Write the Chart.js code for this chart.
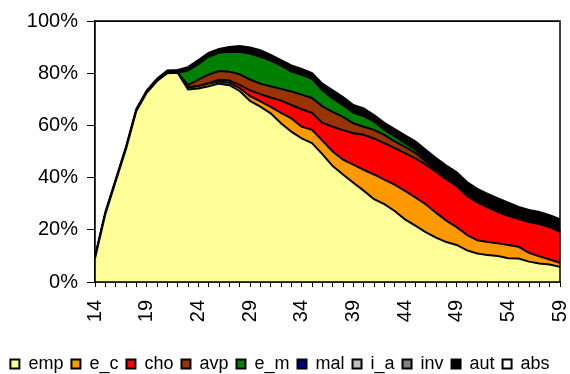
<!DOCTYPE html>
<html>
<head>
<meta charset="utf-8">
<script src="https://cdn.jsdelivr.net/npm/chart.js@4/dist/chart.umd.min.js"></script>
<style>
  html, body { margin: 0; padding: 0; background: #fff; }
  #wrap { width: 570px; height: 374px; position: relative; }
</style>
</head>
<body>
<div id="wrap"><canvas id="chart"></canvas></div>
<script>
const ages = ['14','15','16','17','18','19','20','21','22','23','24','25','26','27','28','29','30','31','32','33','34','35','36','37','38','39','40','41','42','43','44','45','46','47','48','49','50','51','52','53','54','55','56','57','58','59'];
const tickAges = ['14','19','24','29','34','39','44','49','54','59'];
const yTicks = [0, 20, 40, 60, 80, 100];

const emp = [9, 26, 38.5, 51, 65.5, 72.5, 77, 80, 80.2,
  73.8, 74.1, 75, 76, 75.4, 73.2, 69.4, 67.2, 64.6, 60.8,
  57.6, 55, 53.2, 49, 44.4, 41.2, 38, 35, 31.7, 29.8,
  27.2, 24, 21.6, 19.1, 17, 15.3, 14.2, 12.1, 10.9, 10.3,
  10, 9.1, 9, 7.8, 7.1, 6.7, 5.8];
const e_c = [0, 0, 0, 0, 0, 0, 0, 0, 0,
  0.7, 0.9, 1.0, 0.8, 0.9, 1.1, 1.8, 2.0, 2.5, 4.0,
  5.1, 4.5, 5.1, 5.2, 5.6, 5.7, 7.0, 8.0, 9.5, 9.4,
  10.1, 10.9, 10.8, 10.7, 9.5, 8.2, 6.8, 5.9, 5.1, 5.0,
  4.8, 5.1, 4.5, 3.4, 2.7, 1.9, 1.6];
const cho = [0, 0, 0, 0, 0, 0, 0, 0, 0,
  0, 0.1, 0.3, 0.7, 0.9, 1.2, 2.2, 2.8, 3.6, 4.7,
  5.1, 6.7, 6.5, 6.8, 9.5, 11.3, 12.0, 13.4, 13.8, 14.0,
  14.0, 14.5, 15.0, 15.2, 15.8, 15.8, 15.8, 15.0, 14.5, 13.3,
  12.0, 11.2, 10.6, 11.8, 12.4, 12.4, 11.8];
const avp = [0, 0, 0, 0, 0, 0, 0, 0, 0,
  1.0, 2.4, 3.2, 3.3, 3.4, 4.1, 4.2, 4.0, 4.3, 4.5,
  5.2, 5.6, 5.7, 6.3, 5.7, 5.1, 3.8, 3.1, 3.3, 3.2,
  2.6, 2.4, 2.1, 1.3, 0.7, 0.3, 0, 0, 0, 0,
  0, 0, 0, 0, 0, 0, 0];
const e_m = [0, 0, 0, 0, 0, 0, 0, 0, 0,
  5.5, 6.0, 6.8, 7.0, 7.6, 8.5, 9.9, 10.3, 9.8, 8.9,
  7.6, 7.6, 7.3, 6.2, 5.1, 4.5, 4.0, 4.1, 3.1, 1.9,
  1.9, 1.4, 1.2, 0.9, 0.7, 0.8, 0.7, 0.3, 0, 0,
  0, 0, 0, 0, 0, 0, 0];
const mal = [0, 0, 0, 0, 0, 0, 0, 0, 0,
  0, 0, 0, 0.3, 0.3, 0.3, 0.3, 0.3, 0.3, 0.2,
  0.2, 0.2, 0.2, 0.2, 0.1, 0.1, 0.1, 0.1, 0.1, 0.1,
  0.1, 0.1, 0.1, 0.1, 0.1, 0.1, 0.1, 0.1, 0.1, 0.1,
  0.1, 0.1, 0.1, 0.3, 0.3, 0.3, 0.3];
const i_a = [0, 0, 0, 0, 0, 0, 0, 0, 0,
  0, 0, 0, 0, 0, 0, 0, 0, 0, 0,
  0, 0, 0, 0, 0, 0, 0, 0, 0, 0,
  0, 0, 0, 0, 0, 0, 0, 0, 0, 0,
  0, 0, 0, 0, 0.2, 0.2, 0.2];
const inv = [0, 0, 0, 0, 0, 0, 0, 0, 0,
  0, 0, 0, 0, 0, 0, 0, 0, 0, 0,
  0, 0, 0, 0, 0, 0, 0, 0.1, 0.1, 0.1,
  0.1, 0.1, 0.1, 0.1, 0.1, 0.1, 0.1, 0.1, 0.1, 0.1,
  0.1, 0.1, 0.1, 0.1, 0.1, 0.1, 0.1];
const aut = [0.8, 0.8, 0.8, 0.8, 0.8, 0.8, 0.9, 1.0, 1.0,
  1.3, 1.5, 1.5, 1.2, 1.5, 2.0, 2.1, 2.2, 1.9, 1.9,
  2.2, 2.0, 2.0, 2.3, 3.0, 3.0, 2.9, 2.7, 2.4, 2.5,
  2.6, 2.8, 3.0, 3.3, 3.6, 4.0, 4.3, 4.8, 5.0, 5.0,
  5.0, 4.8, 4.5, 4.2, 4.0, 4.0, 4.3];
const abs = [90.2, 73.2, 60.7, 48.2, 33.7, 26.7, 22.1, 19, 18.8,
  17.7, 15, 12.2, 10.7, 10, 9.6, 10.1, 11.2, 13, 15,
  17, 18.4, 20, 24, 26.6, 29.1, 32.2, 33.5, 36, 39,
  41.4, 43.8, 46.1, 49.3, 52.5, 55.4, 58, 61.7, 64.3, 66.2,
  68, 69.6, 71.2, 72.4, 73.2, 74.4, 75.9];

const seriesNames = ['emp', 'e_c', 'cho', 'avp', 'e_m', 'mal', 'i_a', 'inv', 'aut', 'abs'];
const seriesData = [emp, e_c, cho, avp, e_m, mal, i_a, inv, aut, abs];
const seriesColors = ['#FFFF99', '#FF9900', '#FF0000', '#993300', '#008000', '#000080', '#C0C0C0', '#808080', '#000000', '#FFFFFF'];

const FONT = "'Liberation Sans', Arial, sans-serif";

// box round the plot area, like the original frame
const frame = {
    id: 'frame',
    afterDatasetsDraw(chart) {
        const {ctx, chartArea: a} = chart;
        ctx.save();
        ctx.strokeStyle = '#000';
        ctx.lineWidth = 1.5;
        ctx.strokeRect(a.left, a.top, a.right - a.left, a.bottom - a.top);
        ctx.restore();
    }
};

const datasets = seriesNames.map((name, i) => ({
    label: name,
    data: seriesData[i],
    backgroundColor: seriesColors[i],
    borderColor: '#000',
    borderWidth: 2,
    fill: i === 0 ? 'origin' : '-1',
    pointRadius: 0,
    tension: 0
}));

new Chart(document.getElementById('chart'), {
    type: 'line',
    data: { labels: ages, datasets },
    options: {
        responsive: true,
        maintainAspectRatio: false,
        animation: false,
        layout: { padding: { top: 16, right: 10, left: 0, bottom: -9 } },
        scales: {
            x: {
                stacked: true,
                offset: false,
                border: { color: '#000', width: 1.5 },
                grid: { drawOnChartArea: false, color: '#000', tickLength: 5 },
                ticks: {
                    autoSkip: false,
                    maxRotation: 90,
                    minRotation: 90,
                    padding: 13,
                    color: '#000',
                    font: { family: FONT, size: 20 },
                    callback: (v, i) => tickAges.includes(ages[i]) ? ages[i] : ''
                },
                afterFit: (scale) => {
                    scale.height = 65;
                    scale.paddingRight = 0;
                    scale.paddingLeft = 0;
                }
            },
            y: {
                stacked: true,
                min: 0,
                max: 100,
                border: { color: '#000', width: 1.5 },
                grid: { drawOnChartArea: false, color: '#000', tickLength: 8 },
                afterBuildTicks: (scale) => { scale.ticks = yTicks.map(v => ({ value: v })); },
                ticks: {
                    padding: 9,
                    color: '#000',
                    font: { family: FONT, size: 20 },
                    callback: (v) => v + '%'
                },
                afterFit: (scale) => { scale.width = 95; }
            }
        },
        plugins: {
            tooltip: { enabled: false },
            legend: {
                position: 'bottom',
                labels: {
                    boxWidth: 9,
                    boxHeight: 9,
                    padding: 8,
                    color: '#000',
                    font: { family: FONT, size: 18 }
                }
            }
        }
    },
    plugins: [frame]
});
</script>
</body>
</html>
